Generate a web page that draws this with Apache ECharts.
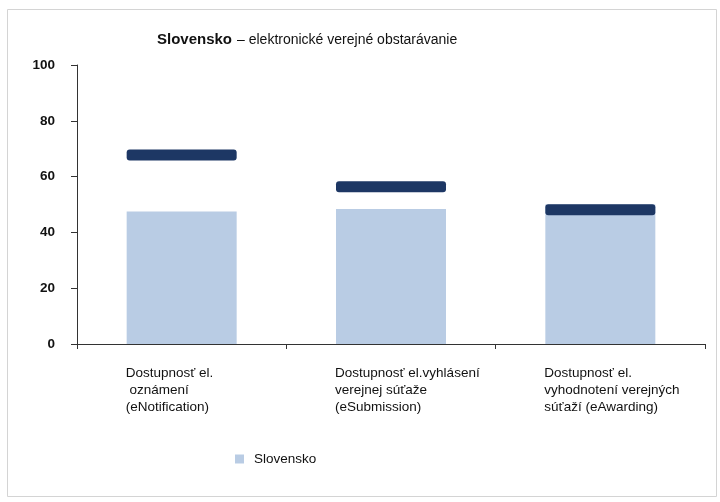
<!DOCTYPE html>
<html>
<head>
<meta charset="utf-8">
<script src="https://cdn.jsdelivr.net/npm/echarts@6/dist/echarts.min.js"></script>
<style>
  html, body { margin: 0; padding: 0; background: #fff; }
  #chart { width: 720px; height: 502px; }
</style>
</head>
<body>
<div id="chart"></div>
<script>
// categories (x axis)
const categories = [
    'Dostupnosť el.\n oznámení\n(eNotification)',
    'Dostupnosť el.vyhlásení\nverejnej súťaže\n(eSubmission)',
    'Dostupnosť el.\nvyhodnotení verejných\nsúťaží (eAwarding)'
];
// Slovensko bars
const slovenskoValues = [47.5, 48.4, 50.0];
// dark markers (second, unlabelled series)
const markerValues = [67.7, 56.4, 48.1];
const yTicks = { min: 0, max: 100, interval: 20 };

const chart = echarts.init(document.getElementById('chart'));
const font = '"Liberation Sans", Arial, sans-serif';

// rounded bar-shaped marker, stretched to symbolSize
const markerPath = 'path://M3,0 H107 Q110,0 110,3 V8 Q110,11 107,11 H3 Q0,11 0,8 V3 Q0,0 3,0 Z';

chart.setOption({
    backgroundColor: '#fff',
    animation: false,
    textStyle: { fontFamily: font },
    graphic: [{
        type: 'rect', left: 5, top: 7,
        shape: { width: 709, height: 487 },
        style: { fill: 'none', stroke: '#d4d4d4', lineWidth: 1 }
    }],
    title: {
        text: '{b|Slovensko} {n|– elektronické verejné obstarávanie}',
        left: 152, top: 26,
        textStyle: {
            fontWeight: 'normal',
            rich: {
                b: { fontFamily: font, fontWeight: 'bold', fontSize: 15, color: '#111' },
                n: { fontFamily: font, fontWeight: 'normal', fontSize: 14, color: '#111' }
            }
        }
    },
    legend: {
        data: ['Slovensko'],
        left: 235, top: 452, padding: 0,
        itemWidth: 9, itemHeight: 9,
        icon: 'rect',
        textStyle: { fontFamily: font, fontSize: 13.5, color: '#111', padding: [0, 0, 0, 5] }
    },
    grid: { left: 77, right: 15, top: 65, bottom: 158 },
    xAxis: {
        type: 'category',
        data: categories,
        axisLine: { lineStyle: { color: '#333', width: 1 } },
        axisTick: { show: true, length: 5, lineStyle: { color: '#333' } },
        axisLabel: {
            interval: 0,
            margin: 21,
            formatter: v => v.split('\n').map(s => '{t|' + s + '}').join('\n'),
            rich: {
                t: { width: 112, align: 'left', fontFamily: font, fontSize: 13.5, lineHeight: 17, color: '#111' }
            }
        }
    },
    yAxis: {
        type: 'value',
        min: yTicks.min, max: yTicks.max, interval: yTicks.interval,
        axisLine: { show: true, lineStyle: { color: '#333', width: 1 } },
        axisTick: { show: true, length: 6, lineStyle: { color: '#333' } },
        splitLine: { show: false },
        axisLabel: { margin: 22, fontFamily: font, fontSize: 13.5, fontWeight: 'bold', color: '#111' }
    },
    series: [{
        name: 'Slovensko', type: 'bar',
        data: slovenskoValues,
        barWidth: 110,
        itemStyle: { color: '#b9cce4' }
    }, {
        name: 'marker', type: 'scatter',
        data: markerValues,
        symbol: markerPath,
        symbolSize: [110, 11],
        itemStyle: { color: '#1d3764', opacity: 1 },
        z: 5
    }]
});
</script>
</body>
</html>
